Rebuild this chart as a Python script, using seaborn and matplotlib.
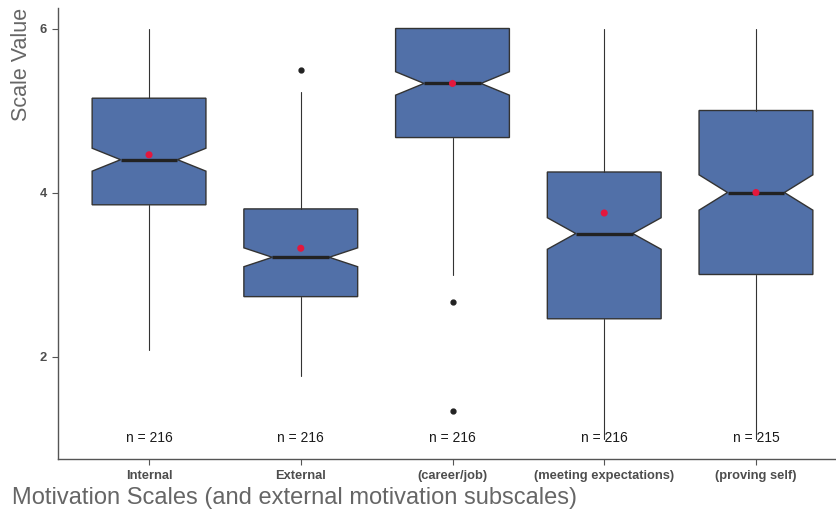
import numpy as np
import pandas as pd
import seaborn as sns
from matplotlib import pyplot as plt

# summary stats
scales = ["Internal", "External", "(career/job)", "(meeting expectations)", "(proving self)"]
whisk_lo = [2.08, 1.76, 3.00, 1.00, 1.00]
q1 = [3.85, 2.73, 4.67, 2.46, 3.00]
medians = [4.40, 3.21, 5.33, 3.50, 4.00]
q3 = [5.15, 3.80, 6.00, 4.25, 5.00]
whisk_hi = [6.00, 5.22, 6.00, 6.00, 6.00]
means = [4.46, 3.32, 5.33, 3.75, 4.00]
outliers = [[], [5.5], [2.67, 1.34], [], []]
counts = [216, 216, 216, 216, 215]

sns.set_theme(style="ticks")
plt.rcParams['font.family'] = ['Liberation Sans', 'DejaVu Sans']

fig = plt.figure(figsize=(8.36, 5.16), dpi=100)
ax = fig.add_axes([58 / 836, 57 / 516, 789 / 836, 451 / 516])

stats = []
for i in range(len(scales)):
    ci = 1.58 * (q3[i] - q1[i]) / np.sqrt(counts[i])
    stats.append({"label": scales[i], "whislo": whisk_lo[i], "q1": q1[i], "med": medians[i],
                  "q3": q3[i], "whishi": whisk_hi[i], "mean": means[i], "fliers": outliers[i],
                  "cilo": medians[i] - ci, "cihi": medians[i] + ci})

ax.bxp(stats, positions=range(len(scales)), widths=0.75, shownotches=True, patch_artist=True,
       showcaps=False, manage_ticks=False,
       boxprops=dict(facecolor="#5170a8", edgecolor="#333333", linewidth=1.0),
       medianprops=dict(color="#222222", linewidth=2.4),
       whiskerprops=dict(color="#333333", linewidth=0.8),
       flierprops=dict(marker="o", markersize=3.5, markerfacecolor="#222222",
                       markeredgecolor="#222222"))

mean_df = pd.DataFrame({"pos": range(len(scales)), "mean": means})
sns.scatterplot(data=mean_df, x="pos", y="mean", color="#e3173d", s=26,
                edgecolor="none", zorder=5, ax=ax)

for i, n in enumerate(counts):
    ax.text(i, 1.0, f"n = {n}", ha="center", va="center", fontsize=10, color="#1a1a1a")

ax.set_xlim(-0.6, 4.6)
ax.set_ylim(0.75, 6.25)
ax.set_xticks(range(len(scales)))
ax.set_xticklabels(scales)
ax.set_yticks([2, 4, 6])
ax.set_xlabel("")
ax.set_ylabel("")
for lab in ax.get_xticklabels() + ax.get_yticklabels():
    lab.set_fontweight("bold")
    lab.set_fontsize(9.3)
    lab.set_color("#4d4d4d")
ax.tick_params(length=4, width=0.8, color="#555555", pad=4)
sns.despine(ax=ax)
for s in ["left", "bottom"]:
    ax.spines[s].set_color("#555555")
    ax.spines[s].set_linewidth(1.0)

fig.text(12 / 836, 1 - 498 / 516, "Motivation Scales (and external motivation subscales)",
         ha="left", va="center", fontsize=17, color="#666666")
fig.text(22 / 836, 1 - 8 / 516, "Scale Value", rotation=90, ha="center", va="top",
         fontsize=15.5, color="#666666")

fig.savefig("out.png", dpi=100)
